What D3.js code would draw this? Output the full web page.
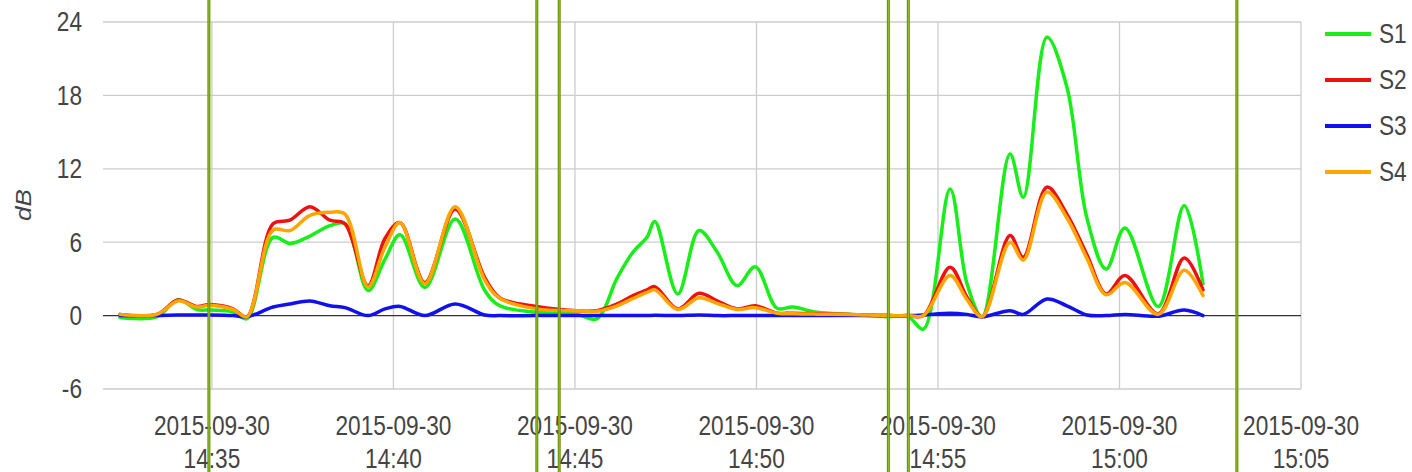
<!DOCTYPE html>
<html>
<head>
<meta charset="utf-8">
<script src="https://cdn.jsdelivr.net/npm/d3@7"></script>
<style>
  html, body { margin: 0; padding: 0; background: #fff; }
  svg { display: block; }
  text { font-family: "Liberation Sans", Arial, Helvetica, sans-serif; fill: #444; }
</style>
</head>
<body>
<svg id="chart" width="1412" height="472"></svg>
<script>
// ---- data ----
const day = "2015-09-30";
const times = ["14:32:28","14:33:29","14:34:04","14:34:35","14:34:57","14:35:35","14:35:58",
  "14:36:41","14:37:09","14:37:42","14:38:15","14:38:40","14:39:18","14:39:46","14:40:11",
  "14:40:52","14:41:42","14:42:31","14:42:56","14:43:57","14:45:03","14:45:36","14:46:10",
  "14:46:36","14:46:59","14:47:12","14:47:50","14:48:25","14:48:55","14:49:28","14:49:58",
  "14:50:34","14:51:00","14:51:40","14:52:35","14:53:36","14:54:11","14:54:36","14:55:20",
  "14:55:48","14:56:13","14:56:59","14:57:21","14:58:00","14:58:33","14:59:06","14:59:38",
  "15:00:09","15:01:04","15:01:47","15:02:18"];
const s1 = [-0.15,-0.1,1.3,0.5,0.45,0.3,-0.25,
  6.4,5.9,6.5,7.35,7.5,2.05,4.6,6.6,
  2.3,7.9,2.05,0.8,0.27,0.1,-0.27,3.1,
  5.2,6.4,7.7,1.77,6.95,5.2,2.45,4.0,
  0.6,0.7,0.27,0.1,-0.1,-0.1,-1.1,10.35,
  2.6,-0.1,13.2,9.67,22.76,18.7,8.0,3.8,
  7.17,0.74,9.0,2.6];
const s2 = [0.1,0.1,1.28,0.75,0.9,0.55,-0.1,
  7.5,7.8,8.9,7.8,7.5,2.45,6.3,7.6,
  2.7,8.7,3.1,1.45,0.74,0.4,0.4,0.95,
  1.63,2.1,2.37,0.55,1.82,1.2,0.55,0.8,
  0.2,0.2,0.15,0.1,0.0,0.0,0.0,3.95,
  1.5,-0.1,6.54,4.77,10.5,8.3,5.0,1.77,
  3.27,0.14,4.7,2.1];
const s3 = [0,0,0.05,0.05,0.05,0,-0.1,
  0.7,0.95,1.2,0.8,0.65,0,0.55,0.75,
  0,0.95,0.05,0,0,0,0,0,
  0,0,0.02,0,0.05,0,0,0,
  0,0,0,0,0,0,0.05,0.2,
  0.1,-0.1,0.4,0.1,1.36,0.8,0.05,0,
  0.1,-0.05,0.45,0];
const s4 = [0.1,0.1,1.2,0.7,0.85,0.5,-0.1,
  7.0,6.95,8.2,8.45,8.3,2.35,5.6,7.6,
  2.6,8.9,2.9,1.4,0.55,0.4,0.35,0.8,
  1.4,1.9,2.1,0.5,1.45,1.0,0.5,0.65,
  0.2,0.15,0.12,0.1,0.0,0.0,0.0,3.27,
  1.3,-0.1,6.0,4.55,10.1,8.0,4.7,1.7,
  2.7,0.1,3.7,1.64];
const seriesNames = ["S1","S2","S3","S4"];
const seriesColors = ["#1aee1a","#ee1111","#1111ee","#ffa500"];
const eventTimes = ["14:34:55","14:43:57","14:44:34","14:53:38","14:54:11","15:03:14"];
const yTicks = [-6,0,6,12,18,24];
const xTickTimes = ["14:35","14:40","14:45","14:50","14:55","15:00","15:05"];

(function () {
  const parse = d3.timeParse("%Y-%m-%d %H:%M:%S");
  const T = s => parse(day + " " + (s.length === 5 ? s + ":00" : s));
  const svg = d3.select("#chart");
  const SX = 0.84; // horizontal text compression
  const pL = 103, pR = 1301, pT = 22, pB = 389;

  const x = d3.scaleTime().domain([T("14:32"), T("15:05")]).range([pL, pR]);
  const y = d3.scaleLinear().domain([-6, 24]).range([pB, pT]);

  const g = svg.append("g");
  g.selectAll("line.hg").data(yTicks.filter(v => v !== 0)).join("line")
    .attr("x1", pL).attr("x2", pR)
    .attr("y1", d => y(d)).attr("y2", d => y(d))
    .attr("stroke", "#cccccc").attr("stroke-width", 1.3);
  g.selectAll("line.vg").data(xTickTimes).join("line")
    .attr("x1", d => x(T(d))).attr("x2", d => x(T(d)))
    .attr("y1", pT).attr("y2", pB)
    .attr("stroke", "#cccccc").attr("stroke-width", 1.3);
  g.append("line").attr("x1", pL).attr("x2", pR)
    .attr("y1", y(0)).attr("y2", y(0)).attr("stroke", "#333").attr("stroke-width", 1.2);

  svg.append("g").selectAll("text").data(yTicks).join("text")
    .attr("transform", d => `translate(82,${y(d)}) scale(${SX},1)`)
    .attr("text-anchor", "end").attr("dy", "0.35em")
    .style("font-size", "27px").text(d => d);

  const xl = svg.append("g").selectAll("g").data(xTickTimes).join("g")
    .attr("transform", d => `translate(${x(T(d))},0)`);
  xl.append("text").attr("transform", `translate(0,435) scale(${SX},1)`)
    .attr("text-anchor", "middle").style("font-size", "27px").text(day);
  xl.append("text").attr("transform", `translate(0,468) scale(${SX},1)`)
    .attr("text-anchor", "middle").style("font-size", "27px").text(d => d);

  svg.append("text")
    .attr("transform", `translate(31,205) scale(${SX},1) rotate(-90)`)
    .attr("text-anchor", "middle").style("font-size", "26px").style("font-style", "italic")
    .text("dB");

  const allSeries = [s1, s2, s3, s4];
  const line = d3.line()
    .x((d, i) => x(T(times[i])))
    .y(d => y(d))
    .curve(d3.curveCatmullRom.alpha(0.5));
  svg.append("g").selectAll("path").data(allSeries).join("path")
    .attr("d", d => line(d))
    .attr("fill", "none")
    .attr("stroke", (d, i) => seriesColors[i])
    .attr("stroke-width", 3.5)
    .attr("stroke-linejoin", "round").attr("stroke-linecap", "round");

  const ev = svg.append("g");
  ev.selectAll("line.o").data(eventTimes).join("line")
    .attr("x1", d => x(T(d))).attr("x2", d => x(T(d)))
    .attr("y1", 0).attr("y2", 472)
    .attr("stroke", "#6e8b0c").attr("stroke-width", 3);
  ev.selectAll("line.i").data(eventTimes).join("line")
    .attr("x1", d => x(T(d))).attr("x2", d => x(T(d)))
    .attr("y1", 0).attr("y2", 472)
    .attr("stroke", "#8fc22a").attr("stroke-width", 1);

  const lg = svg.append("g").selectAll("g").data(seriesNames).join("g")
    .attr("transform", (d, i) => `translate(1325,${34 + i * 46})`);
  lg.append("line").attr("x1", 0).attr("x2", 46).attr("y1", 0).attr("y2", 0)
    .attr("stroke", (d, i) => seriesColors[i]).attr("stroke-width", 4);
  lg.append("text").attr("transform", `translate(54,0) scale(${SX},1)`)
    .attr("dy", "0.35em").style("font-size", "27px").text(d => d);
})();
</script>
</body>
</html>
